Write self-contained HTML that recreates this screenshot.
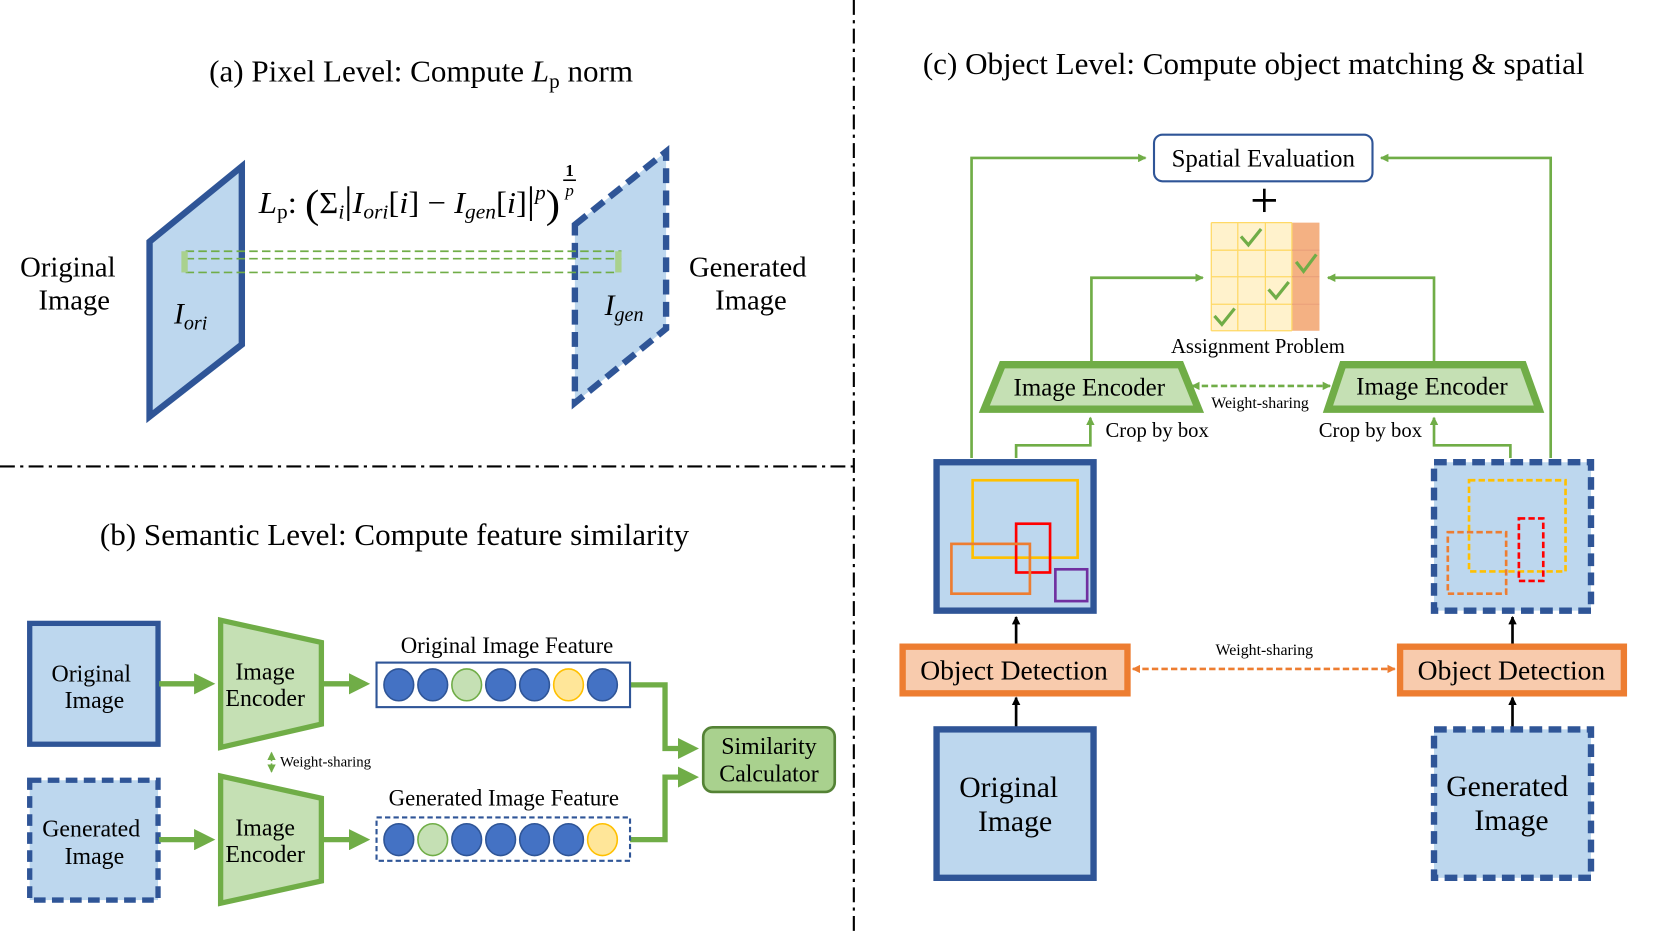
<!DOCTYPE html>
<html><head><meta charset="utf-8"><style>
html,body{margin:0;padding:0;background:#fff;}
svg{display:block;}
text{font-family:"Liberation Serif",serif;fill:#000;}
</style></head><body>
<svg width="1661" height="934" viewBox="0 0 1566 881" preserveAspectRatio="none" xmlns="http://www.w3.org/2000/svg">
<defs>
<marker id="ga" markerWidth="4" markerHeight="4" refX="3" refY="2" orient="auto" markerUnits="strokeWidth"><path d="M0,0 L4,2 L0,4 z" fill="#70ad47"/></marker>
<marker id="gs" markerWidth="8" markerHeight="8" refX="7" refY="4" orient="auto" markerUnits="userSpaceOnUse"><path d="M0,0 L8,4 L0,8 z" fill="#70ad47"/></marker>
<marker id="gsr" markerWidth="8" markerHeight="8" refX="1" refY="4" orient="auto" markerUnits="userSpaceOnUse"><path d="M8,0 L0,4 L8,8 z" fill="#70ad47"/></marker>
<marker id="os" markerWidth="8" markerHeight="8" refX="7" refY="4" orient="auto" markerUnits="userSpaceOnUse"><path d="M0,0 L8,4 L0,8 z" fill="#ed7d31"/></marker>
<marker id="osr" markerWidth="8" markerHeight="8" refX="1" refY="4" orient="auto" markerUnits="userSpaceOnUse"><path d="M8,0 L0,4 L8,8 z" fill="#ed7d31"/></marker>
<marker id="ba" markerWidth="8" markerHeight="8" refX="7" refY="4" orient="auto" markerUnits="userSpaceOnUse"><path d="M0,0 L8,4 L0,8 z" fill="#000"/></marker>
</defs>

<!-- dividers -->
<line x1="805" y1="0" x2="805" y2="881" stroke="#000" stroke-width="2" stroke-dasharray="14,5,3,5"/>
<line x1="0" y1="440" x2="805" y2="440" stroke="#000" stroke-width="2" stroke-dasharray="14,5,3,5"/>

<!-- (a) -->
<text x="397" y="77" font-size="29.3" text-anchor="middle">(a) Pixel Level: Compute <tspan font-style="italic">L</tspan><tspan font-size="20" dy="6">p</tspan><tspan dy="-6"> norm</tspan></text>
<polygon points="141,228 228,157 228,325 141,393" fill="#bdd7ee" stroke="#2f5597" stroke-width="6"/>
<polygon points="542,212 628,143 628,310 542,380" fill="#bdd7ee" stroke="#2f5597" stroke-width="6" stroke-dasharray="14,7"/>
<g stroke="#70ad47" stroke-width="1.6" fill="none" stroke-dasharray="8,4">
<line x1="175" y1="237" x2="586" y2="237"/>
<line x1="175" y1="244" x2="586" y2="244"/>
<line x1="175" y1="257" x2="583" y2="257"/>
</g>
<rect x="171" y="237" width="6" height="20" fill="#a9d18e"/>
<rect x="580" y="237" width="6" height="20" fill="#a9d18e"/>
<text x="164" y="305" font-size="28" font-style="italic">I<tspan font-size="19" dy="6">ori</tspan></text>
<text x="570" y="297" font-size="28" font-style="italic">I<tspan font-size="19" dy="6">gen</tspan></text>
<text x="244" y="201" font-size="29" textLength="284" lengthAdjust="spacingAndGlyphs"><tspan font-style="italic">L</tspan><tspan font-size="19" dy="5">p</tspan><tspan dy="-5">: </tspan><tspan font-size="38" dy="4">(</tspan><tspan dy="-4">Σ</tspan><tspan font-size="19" dy="5" font-style="italic">i</tspan><tspan dy="-5" font-size="36">|</tspan><tspan font-style="italic">I</tspan><tspan font-size="19" dy="5" font-style="italic">ori</tspan><tspan dy="-5">[</tspan><tspan font-style="italic">i</tspan><tspan>] − </tspan><tspan font-style="italic">I</tspan><tspan font-size="19" dy="5" font-style="italic">gen</tspan><tspan dy="-5">[</tspan><tspan font-style="italic">i</tspan><tspan>]</tspan><tspan font-size="36">|</tspan><tspan font-size="19" dy="-13" font-style="italic">p</tspan><tspan dy="17" font-size="38">)</tspan></text>
<text x="537" y="166" font-size="16" font-weight="bold" text-anchor="middle">1</text>
<line x1="531" y1="170" x2="543" y2="170" stroke="#000" stroke-width="1.5"/>
<text x="537" y="185" font-size="16" font-style="italic" text-anchor="middle">p</text>
<text x="64" y="261" font-size="27" text-anchor="middle">Original</text>
<text x="70" y="292" font-size="27" text-anchor="middle">Image</text>
<text x="705" y="261" font-size="27" text-anchor="middle">Generated</text>
<text x="708" y="292" font-size="27" text-anchor="middle">Image</text>

<!-- (b) -->
<text x="372" y="514" font-size="29.3" text-anchor="middle">(b) Semantic Level: Compute feature similarity</text>
<rect x="28" y="588" width="121" height="114" fill="#bdd7ee" stroke="#2f5597" stroke-width="5"/>
<text x="86" y="643" font-size="22.5" text-anchor="middle">Original</text>
<text x="89" y="668" font-size="22.5" text-anchor="middle">Image</text>
<rect x="28" y="736" width="121" height="113" fill="#bdd7ee" stroke="#2f5597" stroke-width="5" stroke-dasharray="11,6"/>
<text x="86" y="789" font-size="22.5" text-anchor="middle">Generated</text>
<text x="89" y="815" font-size="22.5" text-anchor="middle">Image</text>
<polygon points="208,585 303,606 303,683 208,705" fill="#c5e0b4" stroke="#70ad47" stroke-width="5"/>
<polygon points="208,732 303,753 303,831 208,852" fill="#c5e0b4" stroke="#70ad47" stroke-width="5"/>
<text x="250" y="641" font-size="22.5" text-anchor="middle">Image</text>
<text x="250" y="666" font-size="22.5" text-anchor="middle">Encoder</text>
<text x="250" y="788" font-size="22.5" text-anchor="middle">Image</text>
<text x="250" y="813" font-size="22.5" text-anchor="middle">Encoder</text>
<g stroke="#70ad47" stroke-width="5" fill="none" marker-end="url(#ga)">
<line x1="150" y1="645" x2="198" y2="645"/>
<line x1="303" y1="645" x2="344" y2="645"/>
<line x1="150" y1="792" x2="198" y2="792"/>
<line x1="303" y1="792" x2="344" y2="792"/>
<polyline points="594,646 627,646 627,706 654,706"/>
<polyline points="594,792 627,792 627,733 654,733"/>
</g>
<line x1="256" y1="710" x2="256" y2="728" stroke="#70ad47" stroke-width="1.5" stroke-dasharray="3,2" marker-end="url(#gs)" marker-start="url(#gsr)"/>
<text x="264" y="723" font-size="14">Weight-sharing</text>
<text x="478" y="616" font-size="21.5" text-anchor="middle">Original Image Feature</text>
<text x="475" y="760" font-size="21.5" text-anchor="middle">Generated Image Feature</text>
<rect x="355" y="625" width="239" height="42" fill="#fff" stroke="#2f5597" stroke-width="2"/>
<rect x="355" y="771" width="239" height="41" fill="#fff" stroke="#2f5597" stroke-width="2" stroke-dasharray="5,3"/>
<g stroke-width="1.5">
<ellipse cx="376" cy="646" rx="14" ry="15" fill="#4472c4" stroke="#2f5597"/>
<ellipse cx="408" cy="646" rx="14" ry="15" fill="#4472c4" stroke="#2f5597"/>
<ellipse cx="440" cy="646" rx="14" ry="15" fill="#c5e0b4" stroke="#70ad47"/>
<ellipse cx="472" cy="646" rx="14" ry="15" fill="#4472c4" stroke="#2f5597"/>
<ellipse cx="504" cy="646" rx="14" ry="15" fill="#4472c4" stroke="#2f5597"/>
<ellipse cx="536" cy="646" rx="14" ry="15" fill="#ffe699" stroke="#ffc000"/>
<ellipse cx="568" cy="646" rx="14" ry="15" fill="#4472c4" stroke="#2f5597"/>
<ellipse cx="376" cy="792" rx="14" ry="15" fill="#4472c4" stroke="#2f5597"/>
<ellipse cx="408" cy="792" rx="14" ry="15" fill="#c5e0b4" stroke="#70ad47"/>
<ellipse cx="440" cy="792" rx="14" ry="15" fill="#4472c4" stroke="#2f5597"/>
<ellipse cx="472" cy="792" rx="14" ry="15" fill="#4472c4" stroke="#2f5597"/>
<ellipse cx="504" cy="792" rx="14" ry="15" fill="#4472c4" stroke="#2f5597"/>
<ellipse cx="536" cy="792" rx="14" ry="15" fill="#4472c4" stroke="#2f5597"/>
<ellipse cx="568" cy="792" rx="14" ry="15" fill="#ffe699" stroke="#ffc000"/>
</g>
<rect x="663" y="686" width="124" height="61" rx="9" fill="#a9d18e" stroke="#548235" stroke-width="2.5"/>
<text x="725" y="711" font-size="22.5" text-anchor="middle">Similarity</text>
<text x="725" y="737" font-size="22.5" text-anchor="middle">Calculator</text>

<!-- (c) -->
<text x="1182" y="70" font-size="29.3" text-anchor="middle">(c) Object Level: Compute object matching &amp; spatial</text>
<rect x="1088" y="127" width="206" height="44" rx="8" fill="#fff" stroke="#2f5597" stroke-width="2"/>
<text x="1191" y="157" font-size="23.5" text-anchor="middle">Spatial Evaluation</text>
<g stroke="#70ad47" stroke-width="2.5" fill="none">
<polyline points="916,432 916,149 1080,149" marker-end="url(#gs)"/>
<polyline points="1462,432 1462,149 1302,149" marker-end="url(#gs)"/>
<polyline points="1029,343 1029,262 1134,262" marker-end="url(#gs)"/>
<polyline points="1352,343 1352,262 1252,262" marker-end="url(#gs)"/>
<polyline points="958,432 958,420 1028,420 1028,394" marker-end="url(#gs)"/>
<polyline points="1424,432 1424,420 1352,420 1352,394" marker-end="url(#gs)"/>
</g>
<line x1="1192" y1="178" x2="1192" y2="200" stroke="#000" stroke-width="2.5"/>
<line x1="1181" y1="189" x2="1203" y2="189" stroke="#000" stroke-width="2.5"/>
<rect x="1142" y="210" width="76" height="102" fill="#fff2cc"/>
<rect x="1218" y="210" width="26" height="102" fill="#f4b183"/>
<g stroke="#ffd966" stroke-width="1.2">
<line x1="1142" y1="210" x2="1142" y2="312"/><line x1="1167" y1="210" x2="1167" y2="312"/><line x1="1193" y1="210" x2="1193" y2="312"/><line x1="1218" y1="210" x2="1218" y2="312"/>
<line x1="1142" y1="236" x2="1218" y2="236"/><line x1="1142" y1="261" x2="1218" y2="261"/><line x1="1142" y1="287" x2="1218" y2="287"/><line x1="1142" y1="312" x2="1218" y2="312"/><line x1="1142" y1="210" x2="1218" y2="210"/>
</g>
<g stroke="#e9a07a" stroke-width="1"><line x1="1218" y1="236" x2="1244" y2="236"/><line x1="1218" y1="261" x2="1244" y2="261"/><line x1="1218" y1="287" x2="1244" y2="287"/></g>
<g stroke="#70ad47" stroke-width="3" fill="none">
<polyline points="1170,223 1177,231 1189,216"/>
<polyline points="1222,247 1229,256 1241,240"/>
<polyline points="1196,273 1203,281 1215,266"/>
<polyline points="1145,298 1152,306 1164,291"/>
</g>
<text x="1186" y="333" font-size="19.5" text-anchor="middle">Assignment Problem</text>
<polygon points="945,344 1113,344 1130,386 928,386" fill="#c5e0b4" stroke="#70ad47" stroke-width="7"/>
<polygon points="1266,344 1436,344 1451,386 1252,386" fill="#c5e0b4" stroke="#70ad47" stroke-width="7"/>
<text x="1027" y="373" font-size="23.5" text-anchor="middle">Image Encoder</text>
<text x="1350" y="372" font-size="23.5" text-anchor="middle">Image Encoder</text>
<line x1="1124" y1="364" x2="1254" y2="364" stroke="#70ad47" stroke-width="2.5" stroke-dasharray="6,3" marker-end="url(#gs)" marker-start="url(#gsr)"/>
<text x="1188" y="385" font-size="15" text-anchor="middle">Weight-sharing</text>
<text x="1091" y="412" font-size="19.5" text-anchor="middle">Crop by box</text>
<text x="1292" y="412" font-size="19.5" text-anchor="middle">Crop by box</text>

<rect x="883" y="436" width="148" height="140" fill="#bdd7ee" stroke="#2f5597" stroke-width="6"/>
<rect x="917" y="453" width="99" height="73" fill="none" stroke="#ffc000" stroke-width="2.5"/>
<rect x="958" y="494" width="32" height="46" fill="none" stroke="#ff0000" stroke-width="2.5"/>
<rect x="897" y="513" width="74" height="47" fill="none" stroke="#ed7d31" stroke-width="2.5"/>
<rect x="995" y="537" width="30" height="30" fill="none" stroke="#7030a0" stroke-width="2.5"/>
<rect x="1352" y="436" width="148" height="140" fill="#bdd7ee" stroke="#2f5597" stroke-width="6" stroke-dasharray="12,6"/>
<rect x="1385" y="453" width="91" height="86" fill="none" stroke="#ffc000" stroke-width="2.5" stroke-dasharray="6,3"/>
<rect x="1432" y="489" width="23" height="59" fill="none" stroke="#ff0000" stroke-width="2.5" stroke-dasharray="6,3"/>
<rect x="1365" y="502" width="55" height="58" fill="none" stroke="#ed7d31" stroke-width="2.5" stroke-dasharray="6,3"/>

<rect x="851" y="610" width="212" height="44" fill="#f8cbad" stroke="#ed7d31" stroke-width="6"/>
<rect x="1320" y="610" width="211" height="44" fill="#f8cbad" stroke="#ed7d31" stroke-width="6"/>
<text x="956" y="641" font-size="26" text-anchor="middle">Object Detection</text>
<text x="1425" y="641" font-size="26" text-anchor="middle">Object Detection</text>
<line x1="1068" y1="631" x2="1315" y2="631" stroke="#ed7d31" stroke-width="2.5" stroke-dasharray="6,3" marker-end="url(#os)" marker-start="url(#osr)"/>
<text x="1192" y="618" font-size="15" text-anchor="middle">Weight-sharing</text>

<g stroke="#000" stroke-width="2.5">
<line x1="958" y1="607" x2="958" y2="582" marker-end="url(#ba)"/>
<line x1="958" y1="687" x2="958" y2="658" marker-end="url(#ba)"/>
<line x1="1426" y1="607" x2="1426" y2="582" marker-end="url(#ba)"/>
<line x1="1426" y1="687" x2="1426" y2="658" marker-end="url(#ba)"/>
</g>
<rect x="883" y="688" width="148" height="140" fill="#bdd7ee" stroke="#2f5597" stroke-width="6"/>
<text x="951" y="752" font-size="28" text-anchor="middle">Original</text>
<text x="957" y="784" font-size="28" text-anchor="middle">Image</text>
<rect x="1352" y="688" width="148" height="140" fill="#bdd7ee" stroke="#2f5597" stroke-width="6" stroke-dasharray="12,6"/>
<text x="1421" y="751" font-size="28" text-anchor="middle">Generated</text>
<text x="1425" y="783" font-size="28" text-anchor="middle">Image</text>
</svg>
</body></html>
